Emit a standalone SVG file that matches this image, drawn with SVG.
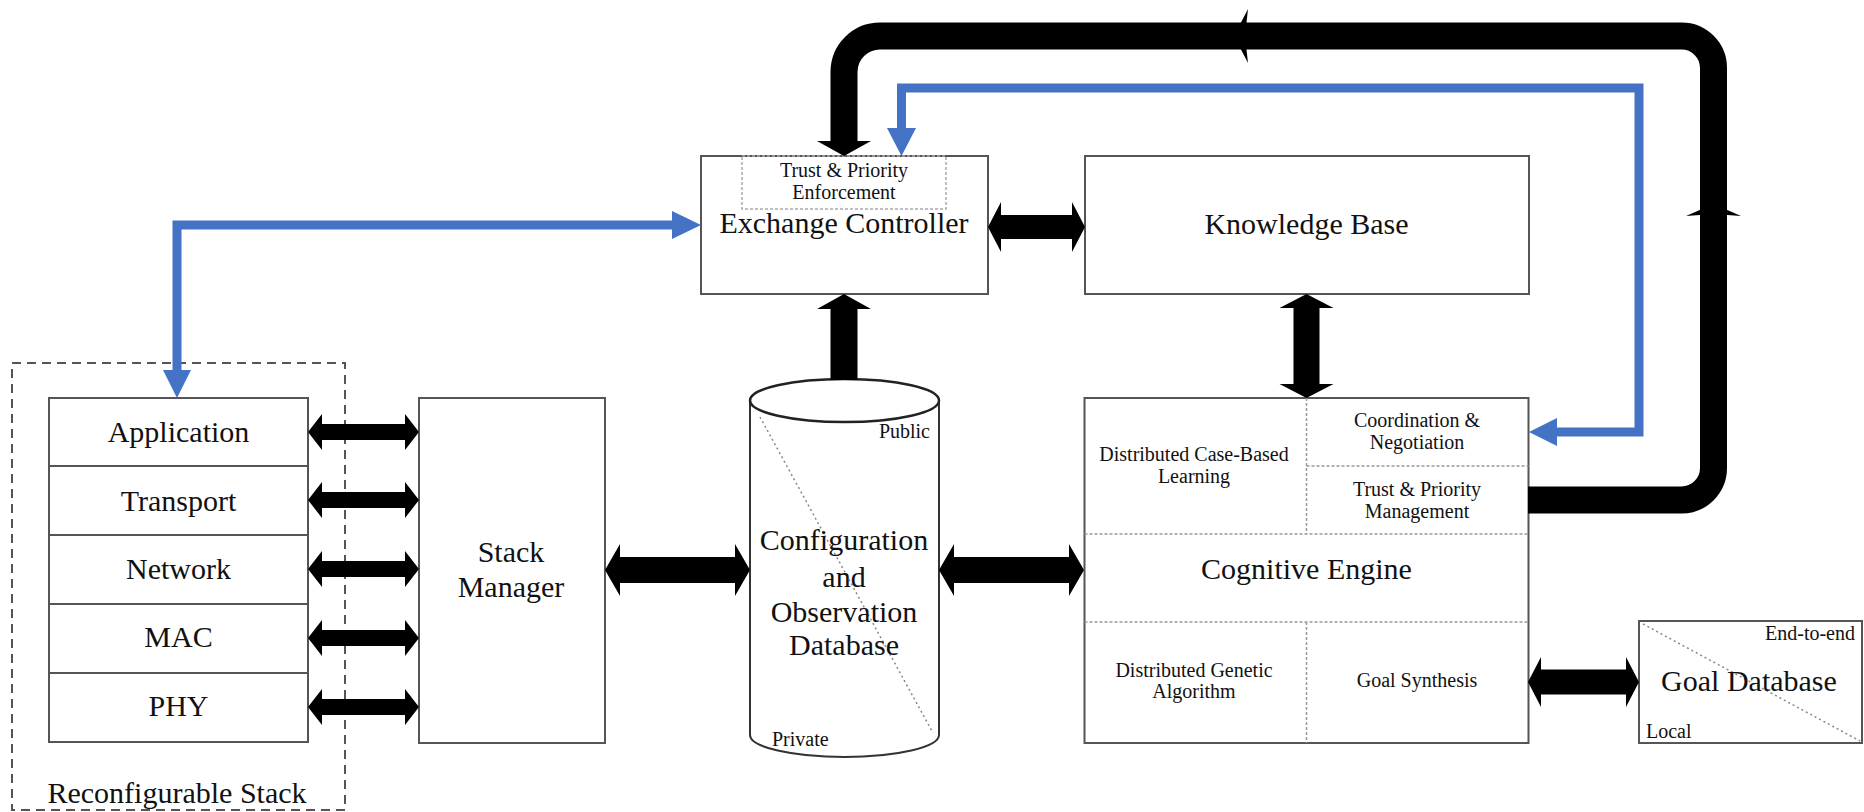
<svg xmlns="http://www.w3.org/2000/svg" width="1864" height="812" viewBox="0 0 1864 812">
<style>
.box{fill:#fff;stroke:#555;stroke-width:2}
.div{fill:none;stroke:#999;stroke-width:1.5;stroke-dasharray:3 2}
.t{font-family:"Liberation Serif","Times New Roman",serif;fill:#111;text-anchor:middle}
.big{font-size:30px}
.sm{font-size:20px}
.blk{fill:#000}
.blue{fill:none;stroke:#4472C4;stroke-width:9;stroke-linejoin:miter}
.bluef{fill:#4472C4}
</style>
<rect width="1864" height="812" fill="#fff"/>

<g id="reconfigurable-stack">
<rect x="12" y="363" width="333" height="447" fill="none" stroke="#555" stroke-width="2" stroke-dasharray="9 6"/>
<text class="t big" x="177" y="803">Reconfigurable Stack</text>
</g>
<g id="application"><rect class="box" x="49" y="398" width="259" height="68"/><text class="t big" x="178.5" y="442">Application</text></g>
<g id="transport"><rect class="box" x="49" y="466" width="259" height="69"/><text class="t big" x="178.5" y="511">Transport</text></g>
<g id="network"><rect class="box" x="49" y="535" width="259" height="69"/><text class="t big" x="178.5" y="579">Network</text></g>
<g id="mac"><rect class="box" x="49" y="604" width="259" height="69"/><text class="t big" x="178.5" y="647">MAC</text></g>
<g id="phy"><rect class="box" x="49" y="673" width="259" height="69"/><text class="t big" x="178.5" y="716">PHY</text></g>

<g id="stack-manager">
<rect class="box" x="419" y="398" width="186" height="345"/>
<text class="t big" x="511" y="562">Stack</text>
<text class="t big" x="511" y="597">Manager</text>
</g>

<g id="config-db">
<path d="M750 400.5 V735 A94.5 22 0 0 0 939 735 V400.5" fill="#fff" stroke="#333" stroke-width="2"/>
<ellipse cx="844.5" cy="400.5" rx="94.5" ry="21.5" fill="#fff" stroke="#222" stroke-width="2.5"/>
<line x1="760" y1="417" x2="933" y2="733" stroke="#888" stroke-width="1.5" stroke-dasharray="2 3"/>
<text class="t sm" x="930" y="438" style="text-anchor:end">Public</text>
<text class="t sm" x="772" y="746" style="text-anchor:start">Private</text>
<text class="t big" x="844" y="550">Configuration</text>
<text class="t big" x="844" y="587">and</text>
<text class="t big" x="844" y="622">Observation</text>
<text class="t big" x="844" y="655">Database</text>
</g>

<g id="exchange-controller">
<rect class="box" x="701" y="156" width="287" height="138"/>
<rect x="742" y="156" width="204" height="53" fill="none" stroke="#aaa" stroke-width="1.5" stroke-dasharray="3 2"/>
<text class="t sm" x="844" y="177">Trust &amp; Priority</text>
<text class="t sm" x="844" y="199">Enforcement</text>
<text class="t big" x="844" y="233">Exchange Controller</text>
</g>

<g id="knowledge-base">
<rect class="box" x="1085" y="156" width="444" height="138"/>
<text class="t big" x="1306.5" y="234">Knowledge Base</text>
</g>

<g id="cognitive-engine">
<rect class="box" x="1084.5" y="398" width="444" height="345"/>
<line class="div" x1="1306.5" y1="398" x2="1306.5" y2="534"/>
<line class="div" x1="1306.5" y1="466" x2="1528.5" y2="466"/>
<line class="div" x1="1084.5" y1="534" x2="1528.5" y2="534"/>
<line class="div" x1="1084.5" y1="622" x2="1528.5" y2="622"/>
<line class="div" x1="1306.5" y1="622" x2="1306.5" y2="743"/>
<text class="t sm" x="1194" y="461">Distributed Case-Based</text>
<text class="t sm" x="1194" y="483">Learning</text>
<text class="t sm" x="1417" y="427">Coordination &amp;</text>
<text class="t sm" x="1417" y="449">Negotiation</text>
<text class="t sm" x="1417" y="496">Trust &amp; Priority</text>
<text class="t sm" x="1417" y="518">Management</text>
<text class="t big" x="1306.5" y="579">Cognitive Engine</text>
<text class="t sm" x="1194" y="677">Distributed Genetic</text>
<text class="t sm" x="1194" y="698">Algorithm</text>
<text class="t sm" x="1417" y="687">Goal Synthesis</text>
</g>

<g id="goal-database">
<rect class="box" x="1639" y="621" width="223" height="122"/>
<line x1="1643" y1="624" x2="1860" y2="741" stroke="#888" stroke-width="1.5" stroke-dasharray="2 3"/>
<text class="t sm" x="1855" y="640" style="text-anchor:end">End-to-end</text>
<text class="t sm" x="1646" y="738" style="text-anchor:start">Local</text>
<text class="t big" x="1749" y="691">Goal Database</text>
</g>

<g id="connectors">
<!-- stack layer arrows -->
<path class="blk" d="M308 432 L322 414 L322 424 L405 424 L405 414 L419 432 L405 450 L405 440 L322 440 L322 450 Z"/>
<path class="blk" d="M308 500 L322 482 L322 492 L405 492 L405 482 L419 500 L405 518 L405 508 L322 508 L322 518 Z"/>
<path class="blk" d="M308 569 L322 551 L322 561 L405 561 L405 551 L419 569 L405 587 L405 577 L322 577 L322 587 Z"/>
<path class="blk" d="M308 638 L322 620 L322 630 L405 630 L405 620 L419 638 L405 656 L405 646 L322 646 L322 656 Z"/>
<path class="blk" d="M308 707 L322 689 L322 699 L405 699 L405 689 L419 707 L405 725 L405 715 L322 715 L322 725 Z"/>
<!-- stack manager <-> config db -->
<path class="blk" d="M605 570 L620 544 L620 557 L735 557 L735 544 L750 570 L735 596 L735 583 L620 583 L620 596 Z"/>
<!-- config db <-> cognitive engine -->
<path class="blk" d="M939 570 L954 544 L954 557 L1069 557 L1069 544 L1084 570 L1069 596 L1069 583 L954 583 L954 596 Z"/>
<!-- config db -> exchange controller -->
<path class="blk" d="M844 294 L871 309 L857.5 309 L857.5 380 L830.5 380 L830.5 309 L817 309 Z"/>
<!-- exchange controller <-> knowledge base -->
<path class="blk" d="M988 227 L1001 202 L1001 215 L1072 215 L1072 202 L1085 227 L1072 252 L1072 239 L1001 239 L1001 252 Z"/>
<!-- knowledge base <-> cognitive engine -->
<path class="blk" d="M1306.5 294 L1333.5 308 L1319.5 308 L1319.5 384 L1333.5 384 L1306.5 398 L1279.5 384 L1293.5 384 L1293.5 308 L1279.5 308 Z"/>
<!-- cognitive engine <-> goal database -->
<path class="blk" d="M1528 682 L1541 657 L1541 669.5 L1626 669.5 L1626 657 L1639 682 L1626 707 L1626 694.5 L1541 694.5 L1541 707 Z"/>
<!-- big black loop: trust & priority management -> exchange controller -->
<path d="M1528 500 H1681.5 A32 32 0 0 0 1713.5 468 V68 A32 32 0 0 0 1681.5 36 H880 A36 36 0 0 0 844 72 V143" fill="none" stroke="#000" stroke-width="27"/>
<polygon class="blk" points="844,156 817,141 871,141"/>
<polygon class="blk" points="1234,36 1248,9 1245,36 1248,63"/>
<polygon class="blk" points="1713.5,204 1741,216 1713.5,214 1686,216"/>
<!-- blue loop: coordination & negotiation <-> exchange controller -->
<path class="blue" d="M901.5 130 V88 H1639 V432 H1555"/>
<polygon class="bluef" points="901.5,156 887,128 916,128"/>
<polygon class="bluef" points="1529,432 1557,418 1557,446"/>
<!-- blue: application <-> exchange controller -->
<path class="blue" d="M177 372 V225 H674"/>
<polygon class="bluef" points="177,398 163,370 191,370"/>
<polygon class="bluef" points="701,225 672,211 672,239"/>
</g>
</svg>
